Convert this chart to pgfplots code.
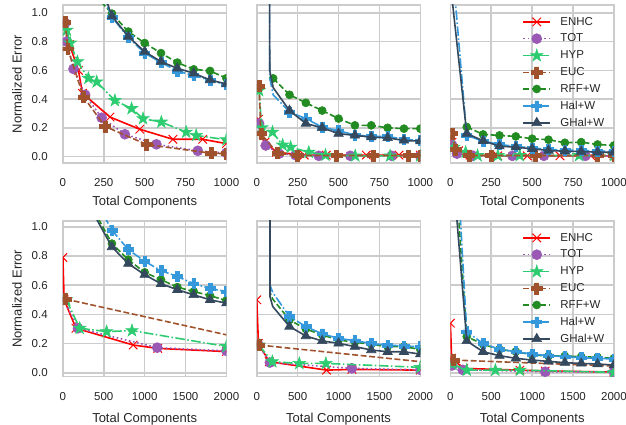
\documentclass[border=0pt]{standalone}
\usepackage{fontspec}
\setmainfont{Liberation Sans}
\usepackage{pgfplots}
\pgfplotsset{compat=1.18}
\usetikzlibrary{plotmarks}
\definecolor{cENHC}{HTML}{FF0000}
\definecolor{cTOT}{HTML}{9B59B6}
\definecolor{cHYP}{HTML}{2ECC71}
\definecolor{cEUC}{HTML}{A0522D}
\definecolor{cRFF}{HTML}{228B22}
\definecolor{cHAL}{HTML}{3498DB}
\definecolor{cGHAL}{HTML}{34495E}
\definecolor{gridc}{HTML}{CCCCCC}
\definecolor{labc}{HTML}{262626}
\pgfdeclareplotmark{P}{%
 \pgfpathmoveto{\pgfpoint{-0.36\pgfplotmarksize}{\pgfplotmarksize}}%
 \pgfpathlineto{\pgfpoint{0.36\pgfplotmarksize}{\pgfplotmarksize}}%
 \pgfpathlineto{\pgfpoint{0.36\pgfplotmarksize}{0.36\pgfplotmarksize}}%
 \pgfpathlineto{\pgfpoint{\pgfplotmarksize}{0.36\pgfplotmarksize}}%
 \pgfpathlineto{\pgfpoint{\pgfplotmarksize}{-0.36\pgfplotmarksize}}%
 \pgfpathlineto{\pgfpoint{0.36\pgfplotmarksize}{-0.36\pgfplotmarksize}}%
 \pgfpathlineto{\pgfpoint{0.36\pgfplotmarksize}{-\pgfplotmarksize}}%
 \pgfpathlineto{\pgfpoint{-0.36\pgfplotmarksize}{-\pgfplotmarksize}}%
 \pgfpathlineto{\pgfpoint{-0.36\pgfplotmarksize}{-0.36\pgfplotmarksize}}%
 \pgfpathlineto{\pgfpoint{-\pgfplotmarksize}{-0.36\pgfplotmarksize}}%
 \pgfpathlineto{\pgfpoint{-\pgfplotmarksize}{0.36\pgfplotmarksize}}%
 \pgfpathlineto{\pgfpoint{-0.36\pgfplotmarksize}{0.36\pgfplotmarksize}}%
 \pgfpathclose\pgfusepathqfillstroke}
\pgfdeclareplotmark{fstar}{%
 \pgfpathmoveto{\pgfpoint{0pt}{\pgfplotmarksize}}%
 \pgfpathlineto{\pgfpoint{-0.2245\pgfplotmarksize}{0.3090\pgfplotmarksize}}%
 \pgfpathlineto{\pgfpoint{-0.9511\pgfplotmarksize}{0.3090\pgfplotmarksize}}%
 \pgfpathlineto{\pgfpoint{-0.3633\pgfplotmarksize}{-0.1180\pgfplotmarksize}}%
 \pgfpathlineto{\pgfpoint{-0.5878\pgfplotmarksize}{-0.8090\pgfplotmarksize}}%
 \pgfpathlineto{\pgfpoint{0pt}{-0.382\pgfplotmarksize}}%
 \pgfpathlineto{\pgfpoint{0.5878\pgfplotmarksize}{-0.8090\pgfplotmarksize}}%
 \pgfpathlineto{\pgfpoint{0.3633\pgfplotmarksize}{-0.1180\pgfplotmarksize}}%
 \pgfpathlineto{\pgfpoint{0.9511\pgfplotmarksize}{0.3090\pgfplotmarksize}}%
 \pgfpathlineto{\pgfpoint{0.2245\pgfplotmarksize}{0.3090\pgfplotmarksize}}%
 \pgfpathclose\pgfusepathqfillstroke}
\pgfplotsset{
 panel/.style={
  scale only axis, width=163.5pt,
  axis line style={draw=gridc, line width=1.6pt},
  grid=major, major grid style={draw=gridc, line width=1.6pt},
  major tick length=0pt, tick style={draw=none},
  tick label style={font=\fontsize{11.5}{13}\selectfont, text=labc, inner sep=0pt},
  xticklabel shift=15.7pt, yticklabel shift=15pt,
  /pgf/number format/assume math mode=true,
  /pgf/number format/1000 sep={},
  scaled ticks=false,
  yticklabel style={/pgf/number format/fixed, /pgf/number format/fixed zerofill, /pgf/number format/precision=1},
  ytick={0,0.2,0.4,0.6,0.8,1.0},
  xlabel={Total Components},
  label style={font=\fontsize{13}{15}\selectfont, text=labc},
  clip marker paths=true,
  legend image code/.code={\draw[mark repeat=2,mark phase=2] plot coordinates {(0cm,0cm) (0.47cm,0cm) (0.94cm,0cm)};},
  legend cell align=left,
  legend style={draw=none, fill=none, font=\fontsize{11.5}{13}\selectfont, text=labc,
    at={(1,1)}, anchor=north east, xshift=-8pt, yshift=-10.5pt, inner sep=0pt, row sep=4.2pt,
    nodes={inner sep=1.5pt}, /tikz/every odd column/.append style={column sep=8pt}},
 },
 toprow/.style={panel, height=158pt, ymin=-0.045, ymax=1.055, xmin=0, xmax=1000,
   xtick={0,250,500,750,1000},
   xlabel style={at={([yshift=-39pt]axis description cs:0.5,0)}, anchor=center}},
 botrow/.style={panel, height=155.7pt, ymin=-0.027, ymax=1.04, xmin=0, xmax=2000,
   xtick={0,500,1000,1500,2000},
   xlabel style={at={([yshift=-42pt]axis description cs:0.5,0)}, anchor=center}},
 leftcol/.style={ylabel={Normalized Error},
   ylabel style={at={([xshift=-46pt]axis description cs:0,0.5)}, anchor=center}},
 noylab/.style={yticklabels={}},
 sENHC/.style={color=cENHC, line width=1.6pt, solid, mark=x, mark size=6pt, mark options={solid, line width=1pt}},
 sTOT/.style={color=cTOT, line width=1.6pt, dash pattern=on 1.6pt off 2.6pt, mark=*, mark size=5pt, mark options={solid, line width=0.6pt}},
 sHYP/.style={color=cHYP, line width=1.6pt, dash pattern=on 9.6pt off 2.4pt on 1.6pt off 2.4pt, mark=fstar, mark size=6.5pt, mark options={solid, line width=0.6pt}},
 sEUC/.style={color=cEUC, line width=1.6pt, dash pattern=on 5.9pt off 2.6pt, mark=P, mark size=5.5pt, mark options={solid, line width=0.6pt}},
 sRFF/.style={color=cRFF, line width=1.6pt, dash pattern=on 5.9pt off 2.6pt, mark=*, mark size=4pt, mark options={solid, line width=0.6pt}},
 sHAL/.style={color=cHAL, line width=1.6pt, dash pattern=on 9.6pt off 2.4pt on 1.6pt off 2.4pt, mark=P, mark size=5pt, mark options={solid, line width=0.6pt}},
 sGHAL/.style={color=cGHAL, line width=1.6pt, solid, mark=triangle*, mark size=5.5pt, mark options={solid, line width=0.6pt}},
}
\begin{document}
\begin{tikzpicture}
\useasboundingbox (0,0) rectangle (626pt,425pt);
% ---------- top left ----------
\begin{axis}[toprow, leftcol, at={(62.9pt,262pt)}, anchor=south west]
\addplot[sENHC] coordinates {(10,0.92)(40,0.78)(95,0.60)(120,0.44)(288,0.275)(470,0.19)(673,0.12)(855,0.12)(1000,0.09)};
\addplot[sTOT] coordinates {(14,0.93)(24,0.80)(65,0.61)(136,0.43)(237,0.27)(379,0.155)(572,0.085)(825,0.04)(1000,0.025)};
\addplot[sHYP] coordinates {(24,0.88)(45,0.79)(89,0.66)(156,0.545)(207,0.52)(318,0.39)(420,0.334)(490,0.264)(602,0.24)(754,0.17)(815,0.147)(1000,0.117)};
\addplot[sEUC] coordinates {(14,0.935)(30,0.75)(126,0.415)(257,0.21)(511,0.084)(906,0.023)(1000,0.02)};
\addplot[sRFF] coordinates {(200,1.12)(300,0.995)(400,0.87)(500,0.79)(600,0.72)(700,0.654)(800,0.607)(900,0.596)(1000,0.545)};
\addplot[sHAL] coordinates {(200,1.25)(300,0.97)(400,0.83)(500,0.72)(600,0.655)(700,0.595)(800,0.565)(900,0.53)(1000,0.5)};
\addplot[sGHAL] coordinates {(200,1.3)(300,0.977)(400,0.836)(500,0.73)(600,0.661)(700,0.614)(800,0.58)(900,0.533)(1000,0.505)};
\end{axis}
% ---------- top middle ----------
\begin{axis}[toprow, noylab, at={(256.8pt,262pt)}, anchor=south west]
\addplot[sENHC] coordinates {(10,0.26)(50,0.10)(120,0.03)(290,0.01)(425,0.01)(670,0.01)(870,0.01)(1000,0.01)};
\addplot[sTOT] coordinates {(14,0.23)(55,0.077)(136,0.02)(237,0.01)(379,0.005)(572,0.005)(825,0.005)(1000,0.005)};
\addplot[sHYP] coordinates {(14,0.46)(30,0.2)(96,0.17)(158,0.08)(207,0.065)(318,0.03)(420,0.01)(602,0.005)(815,0.005)(1000,0.005)};
\addplot[sEUC] coordinates {(14,0.49)(25,0.16)(127,0.023)(250,0.007)(487,0.007)(712,0.007)(928,0.007)(1000,0.007)};
\addplot[sRFF] coordinates {(100,0.544)(200,0.43)(300,0.374)(400,0.32)(500,0.264)(600,0.217)(700,0.217)(800,0.2)(900,0.194)(1000,0.194)};
\addplot[sHAL, mark repeat=1, mark phase=3] coordinates {(77,3)(79,0.55)(100,0.43)(200,0.31)(300,0.264)(400,0.205)(500,0.18)(600,0.15)(700,0.14)(800,0.14)(900,0.12)(1000,0.11)};
\addplot[sGHAL, mark repeat=1, mark phase=3] coordinates {(77,3)(79,0.6)(100,0.48)(200,0.32)(300,0.23)(400,0.20)(500,0.16)(600,0.147)(700,0.135)(800,0.13)(900,0.112)(1000,0.107)};
\end{axis}
% ---------- top right ----------
\begin{axis}[toprow, noylab, at={(450.4pt,262pt)}, anchor=south west]
\addplot[sENHC] coordinates {(10,0.10)(50,0.04)(120,0.01)(290,0.005)(470,0.005)(670,0.005)(860,0.005)(1000,0.005)};
\addplot[sTOT] coordinates {(10,0.08)(40,0.02)(136,0.005)(379,0.005)(572,0.005)(825,0.005)(1000,0.005)};
\addplot[sHYP] coordinates {(20,0.065)(93,0.03)(166,0.007)(290,0.007)(424,0.007)(787,0.007)(1000,0.007)};
\addplot[sEUC] coordinates {(10,0.16)(31,0.05)(114,0.007)(250,0.007)(520,0.007)(900,0.007)(1000,0.007)};
\addplot[sRFF] coordinates {(100,0.206)(200,0.154)(300,0.147)(400,0.14)(500,0.124)(600,0.117)(700,0.096)(800,0.1)(900,0.084)(1000,0.077)};
\addplot[sHAL] coordinates {(10,1.35)(100,0.147)(200,0.107)(300,0.084)(400,0.07)(500,0.06)(600,0.05)(700,0.045)(800,0.042)(900,0.038)(1000,0.035)};
\addplot[sGHAL] coordinates {(10,1.1)(100,0.16)(200,0.11)(300,0.072)(400,0.065)(500,0.054)(600,0.042)(700,0.037)(800,0.035)(900,0.03)(1000,0.03)};
\legend{ENHC,TOT,HYP,EUC,RFF+W,Hal+W,GHal+W}
\end{axis}
% ---------- bottom left ----------
\begin{axis}[botrow, leftcol, at={(62.9pt,48.3pt)}, anchor=south west]
\addplot[sENHC] coordinates {(0,0.79)(15,0.5)(160,0.305)(860,0.19)(1160,0.167)(2000,0.145)};
\addplot[sTOT] coordinates {(15,0.5)(185,0.305)(1154,0.172)(2000,0.15)};
\addplot[sHYP] coordinates {(41,0.5)(206,0.305)(535,0.282)(845,0.289)(2000,0.18)};
\addplot[sEUC, mark repeat=2, mark phase=1] coordinates {(30,0.505)(2000,0.26)};
\addplot[sRFF] coordinates {(200,1.5)(400,1.09)(600,0.885)(800,0.775)(1000,0.688)(1200,0.638)(1400,0.587)(1600,0.557)(1800,0.528)(2000,0.495)};
\addplot[sHAL] coordinates {(200,1.6)(400,1.18)(600,0.977)(800,0.844)(1000,0.764)(1200,0.70)(1400,0.66)(1600,0.61)(1800,0.578)(2000,0.555)};
\addplot[sGHAL] coordinates {(200,1.5)(400,1.065)(600,0.862)(800,0.748)(1000,0.672)(1200,0.61)(1400,0.569)(1600,0.534)(1800,0.5)(2000,0.477)};
\end{axis}
% ---------- bottom middle ----------
\begin{axis}[botrow, noylab, at={(256.8pt,48.3pt)}, anchor=south west]
\addplot[sENHC] coordinates {(0,0.5)(20,0.2)(153,0.076)(853,0.018)(1163,0.023)(2000,0.018)};
\addplot[sTOT] coordinates {(20,0.19)(160,0.07)(1163,0.03)(2000,0.02)};
\addplot[sHYP] coordinates {(25,0.19)(190,0.076)(520,0.064)(845,0.064)(2000,0.037)};
\addplot[sEUC, mark repeat=2, mark phase=1] coordinates {(29,0.19)(2000,0.076)};
\addplot[sRFF, mark repeat=1, mark phase=3] coordinates {(160,5)(162,0.55)(195,0.505)(400,0.362)(600,0.30)(800,0.259)(1000,0.225)(1200,0.209)(1400,0.195)(1600,0.179)(1800,0.179)(2000,0.16)};
\addplot[sHAL, mark repeat=1, mark phase=3] coordinates {(160,5)(162,0.6)(195,0.55)(400,0.385)(600,0.317)(800,0.266)(1000,0.236)(1200,0.22)(1400,0.2)(1600,0.19)(1800,0.183)(2000,0.179)};
\addplot[sGHAL, mark repeat=1, mark phase=3] coordinates {(160,5)(162,0.52)(195,0.454)(400,0.317)(600,0.252)(800,0.218)(1000,0.202)(1200,0.179)(1400,0.156)(1600,0.144)(1800,0.144)(2000,0.128)};
\end{axis}
% ---------- bottom right ----------
\begin{axis}[botrow, noylab, at={(450.4pt,48.3pt)}, anchor=south west]
\addplot[sENHC] coordinates {(0,0.34)(15,0.1)(160,0.03)(850,0.018)(1160,0.012)(2000,0.005)};
\addplot[sTOT] coordinates {(20,0.05)(150,0.02)(1160,0.007)(2000,0.005)};
\addplot[sHYP] coordinates {(25,0.06)(200,0.018)(550,0.018)(850,0.018)(2000,0.003)};
\addplot[sEUC, mark repeat=2, mark phase=1] coordinates {(41,0.087)(2000,0.046)};
\addplot[sRFF] coordinates {(0,1.9)(200,0.248)(400,0.195)(600,0.16)(800,0.145)(1000,0.122)(1200,0.115)(1400,0.115)(1600,0.11)(1800,0.106)(2000,0.099)};
\addplot[sHAL] coordinates {(0,2.28)(200,0.282)(400,0.2)(600,0.161)(800,0.144)(1000,0.128)(1200,0.117)(1400,0.11)(1600,0.103)(1800,0.099)(2000,0.094)};
\addplot[sGHAL] coordinates {(0,1.6)(200,0.218)(400,0.144)(600,0.117)(800,0.099)(1000,0.087)(1200,0.078)(1400,0.069)(1600,0.064)(1800,0.06)(2000,0.053)};
\legend{ENHC,TOT,HYP,EUC,RFF+W,Hal+W,GHal+W}
\end{axis}
\end{tikzpicture}
\end{document}
